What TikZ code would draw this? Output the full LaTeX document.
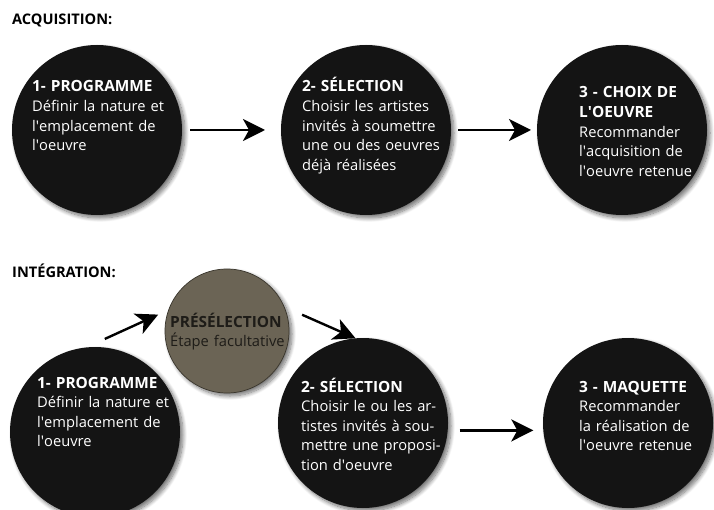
\documentclass[tikz,border=0pt]{standalone}
\usepackage{fontspec}
\setmainfont{Open Sans}
\usetikzlibrary{arrows.meta,shadows.blur}

\definecolor{disc}{HTML}{141414}
\definecolor{olive}{HTML}{6B6455}
\definecolor{oliveline}{HTML}{3A362D}
\definecolor{darktext}{HTML}{1E1C18}
\newcommand\ap{\textquotesingle}
\newcommand\ttl[1]{{\fontsize{15.4}{19.6}\selectfont\bfseries #1}}

\begin{document}
\begin{tikzpicture}[x=1pt,y=-1pt,
  softshadow/.style={blur shadow={shadow xshift=3pt,shadow yshift=-3pt,
      shadow blur radius=4pt,shadow blur steps=10,shadow opacity=55}},
  stage/.style={circle,fill=disc,minimum size=170pt,inner sep=0pt,outer sep=0pt,softshadow},
  optional/.style={circle,fill=olive,draw=oliveline,line width=0.7pt,
      minimum size=124pt,inner sep=0pt,outer sep=0pt,softshadow},
  body/.style={anchor=base west,inner sep=0pt,text width=170pt,align=left,
      text=white,font=\fontsize{14.7}{19.6}\selectfont},
  heading/.style={anchor=base west,inner sep=0pt,font=\bfseries\fontsize{14.6}{17}\selectfont},
  flow/.style={line width=2.4pt,-{Stealth[length=22pt,width=22pt,inset=6pt]}},
]
\useasboundingbox (0,0) rectangle (714,510);

% section headings
\node[heading] (hA) at (12,25) {ACQUISITION:};
\node[heading] (hI) at (12,278) {INTÉGRATION:};

% acquisition row
\node[stage] (a1) at (97,130) {};
\node[stage] (a2) at (366,130) {};
\node[stage] (a3) at (622,130) {};

\node[body] (ta1) at (32,92) {\ttl{1- PROGRAMME}\\Définir la nature et\\l\ap emplacement de\\l\ap oeuvre};
\node[body] (ta2) at (302,92) {\ttl{2- SÉLECTION}\\Choisir les artistes\\invités à soumettre\\une ou des oeuvres\\déjà réalisées};
\node[body] (ta3) at (579,98) {\ttl{3 - CHOIX DE}\\\ttl{L\ap OEUVRE}\\Recommander\\l\ap acquisition de\\l\ap oeuvre retenue};

\draw[flow,shorten <=8pt,shorten >=16pt] (a1.east) -- (a2.west);
\draw[flow,shorten <=7pt,shorten >=6pt] (a2.east) -- (a3.west);

% integration row
\node[stage] (b1) at (95,432) {};
\node[stage] (b2) at (363,423) {};
\node[stage] (b3) at (628,423) {};
\node[optional] (pre) at (227,331) {};

\node[body] (tb1) at (37,388) {\ttl{1- PROGRAMME}\\Définir la nature et\\l\ap emplacement de\\l\ap oeuvre};
\node[body] (tb2) at (301,392) {\ttl{2- SÉLECTION}\\Choisir le ou les ar-\\tistes invités à sou-\\mettre une proposi-\\tion d\ap oeuvre};
\node[body] (tb3) at (579,392) {\ttl{3 - MAQUETTE}\\Recommander\\la réalisation de\\l\ap oeuvre retenue};
\node[body,text=darktext] (tpre) at (170,327) {\ttl{PRÉSÉLECTION}\\Étape facultative};

\draw[flow,shorten <=20.5pt,shorten >=11.6pt] (b1.96) -- (pre.160);
\draw[flow,shorten <=19.7pt] (pre.23) -- (b2.95);
\draw[flow,shorten <=12pt,shorten >=10pt] (b2.-5) -- (b3.185);
\end{tikzpicture}
\end{document}
